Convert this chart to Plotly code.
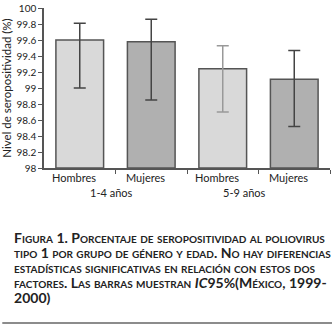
import plotly.graph_objects as go

categories = ["Hombres", "Mujeres", "Hombres", "Mujeres"]
groups = ["1-4 años", "5-9 años"]
values = [99.60, 99.58, 99.24, 99.11]
ci_upper = [99.81, 99.86, 99.53, 99.47]
ci_lower = [99.00, 98.85, 98.70, 98.52]
y_ticks = [98, 98.2, 98.4, 98.6, 98.8, 99, 99.2, 99.4, 99.6, 99.8, 100]
y_ticktext = ["98", "98.2", "98.4", "98.6", "98.8", "99", "99.2", "99.4", "99.6", "99.8", "100"]
caption_lines = [
    "Figura 1. Porcentaje de seropositividad al poliovirus",
    "tipo 1 por grupo de género y edad. No hay diferencias",
    "estadísticas significativas en relación con estos dos",
    "factores. Las barras muestran |IC|95%(México, 1999-",
    "2000)",
]

W, H = 332, 326
L, R, T, B = 42, 2, 6, 158
pw, ph = W - L - R, H - T - B

bar_colors = ["#d9d9d9", "#b0b0b0", "#d9d9d9", "#b0b0b0"]
err_colors = ["#444444", "#444444", "#999999", "#444444"]
FONT = "Lato"

fig = go.Figure()
for i, v in enumerate(values):
    fig.add_trace(go.Bar(
        x=[i], y=[v - 98], base=[98],
        width=0.667,
        marker=dict(color=bar_colors[i], line=dict(color="#555555", width=1.5)),
        error_y=dict(type="data", symmetric=False,
                     array=[ci_upper[i] - v], arrayminus=[v - ci_lower[i]],
                     color=err_colors[i], thickness=1.5, width=6),
        showlegend=False, hoverinfo="skip",
    ))

def px_x(px):
    return (px - L) / pw

def px_y(py):
    return (H - B - py) / ph

annotations = []
for i, c in enumerate(categories):
    annotations.append(dict(x=i - 0.08, y=px_y(178), xref="x", yref="paper", text=c,
                            showarrow=False, font=dict(family=FONT, size=11, color="#222"),
                            xanchor="center", yanchor="middle"))
for g, gx in zip(groups, [0.45, 2.3]):
    annotations.append(dict(x=gx, y=px_y(193), xref="x", yref="paper", text=g,
                            showarrow=False, font=dict(family=FONT, size=11, color="#222"),
                            xanchor="center", yanchor="middle"))

def small_caps(s, big=14, small=10):
    out = []
    italic = False
    for ch in s:
        if ch == "|":
            italic = not italic
            out.append("<i>" if italic else "</i>")
            continue
        if ch.isalpha() and ch.islower():
            out.append(f'<span style="font-size:{small}px">{ch.upper()}</span>')
        else:
            out.append(f'<span style="font-size:{big}px">{ch}</span>')
    return "".join(out)

caption_html = "<br>".join("<b>" + small_caps(line) + "</b>" for line in caption_lines)
annotations.append(dict(x=px_x(10), y=px_y(269), xref="paper", yref="paper",
                        text=caption_html, showarrow=False, align="left",
                        font=dict(family=FONT, size=11.5, color="#222"),
                        xanchor="left", yanchor="middle"))

fig.update_layout(
    width=W, height=H,
    margin=dict(l=L, r=R, t=T, b=B),
    paper_bgcolor="white", plot_bgcolor="white",
    barmode="overlay",
    annotations=annotations,
    shapes=[dict(type="line", xref="paper", yref="paper",
                 x0=px_x(0), x1=px_x(332), y0=px_y(325), y1=px_y(325),
                 line=dict(color="#666666", width=1.5))],
    xaxis=dict(range=[-0.5, 3.5], showline=True, linecolor="#555555", linewidth=1.5,
               tickmode="array", tickvals=[0.5, 1.5, 2.5, 3.5], ticktext=["", "", "", ""],
               ticks="outside", ticklen=4, tickcolor="#555555", showgrid=False, zeroline=False),
    yaxis=dict(range=[98, 100.0005], showline=True, linecolor="#555555", linewidth=1.5,
               tickmode="array", tickvals=y_ticks, ticktext=y_ticktext,
               ticks="outside", ticklen=4, tickcolor="#555555", showgrid=False, zeroline=False,
               ticklabeloverflow="allow",
               tickfont=dict(family=FONT, size=10, color="#222"),
               title=dict(text="Nivel de seropositividad (%)", standoff=6,
                          font=dict(family=FONT, size=11.5, color="#222"))),
)

fig.write_html("out.html", config={"displayModeBar": False},
               post_script="document.body.style.margin='0';document.body.style.overflow='hidden';")
